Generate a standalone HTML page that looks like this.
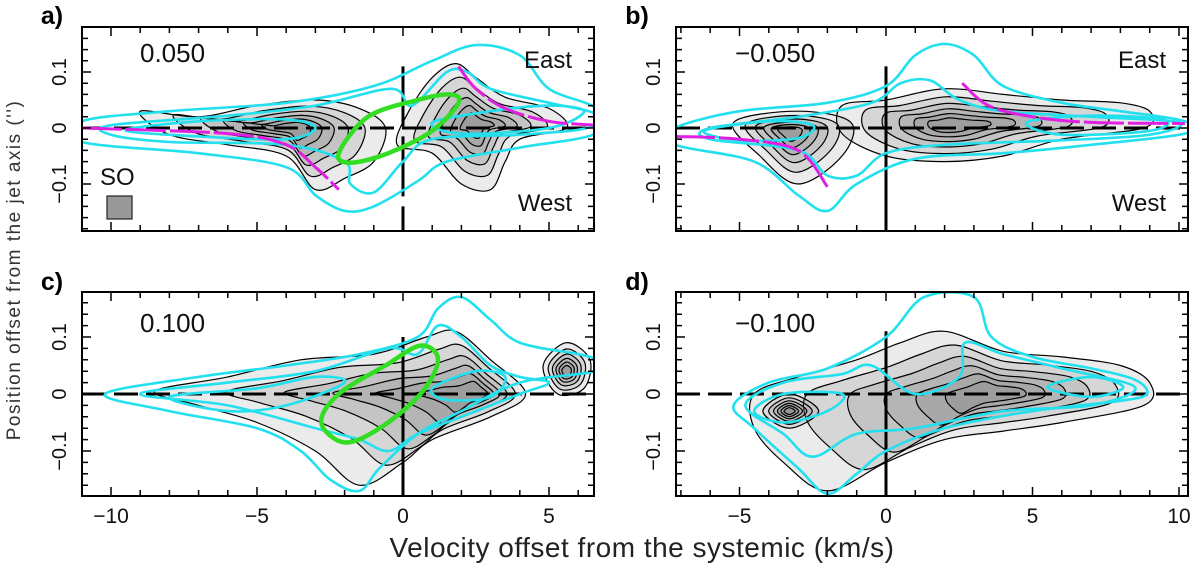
<!DOCTYPE html>
<html><head><meta charset="utf-8"><style>
html,body{margin:0;padding:0;background:#fff;}
svg{display:block;font-family:"Liberation Sans",sans-serif;}
</style></head><body>
<svg id="fig" width="1200" height="567" viewBox="0 0 1200 567">
<text x="20" y="270" transform="rotate(-90 20 270)" text-anchor="middle" font-size="19" fill="#333" letter-spacing="1.5">Position offset from the jet axis ('')</text>
<text x="642" y="557" text-anchor="middle" font-size="28" fill="#222" letter-spacing="0.5">Velocity offset from the systemic (km/s)</text>
</svg>
<script>
// ---- data (velocity km/s, offset arcsec) ----
const panelLabels=["a)","b)","c)","d)"];
const panelValues=["0.050","\u22120.050","0.100","\u22120.100"];
const xTicksAC=[-10,-5,0,5];
const xTicksBD=[-5,0,5,10];
const yTicks=[-0.1,0,0.1];
const levels=[1,0.78,0.6,0.45,0.32,0.2];

const cyanA=[
 [[-11,0.012],[-8,0.03],[-4,0.045],[-1,0.075],[1,0.12],[2.5,0.148],[4,0.13],[5,0.07],[6.6,0.035],[6.6,-0.01],[4,-0.035],[1.5,-0.06],[0.5,-0.095],[-1,-0.14],[-2,-0.148],[-3,-0.12],[-4,-0.07],[-7,-0.045],[-11,-0.025]],
 [[-10,0.005],[-6,0.022],[-3,0.04],[-0.4,0.07],[0.3,0.04],[1.5,0.1],[2.2,0.1],[3,0.07],[5,0.045],[6.6,0.025],[6.3,0.0],[4,-0.012],[1,-0.02],[0,-0.06],[-1,-0.115],[-1.8,-0.1],[-2,-0.06],[-4,-0.03],[-8,-0.025],[-10,-0.012]],
 [[-9.5,-0.004],[-7,0.012],[-4,0.015],[-3,0.0],[-4,-0.02],[-7,-0.015]],
 [[1,0.01],[3,0.03],[5,0.04],[6.2,0.03],[5,0.0],[2,-0.01]]
];
const blackA=[
 {peak:[-3.8,0.0],pts:[[-9,0.03],[-7,0.02],[-5,0.04],[-3,0.05],[-1.5,0.035],[-0.6,0.0],[-1,-0.06],[-2,-0.09],[-3,-0.11],[-4,-0.05],[-6,-0.03],[-8,-0.012]]},
 {peak:[2.5,0.005],pts:[[0.2,0.03],[1,0.09],[1.8,0.115],[2.5,0.09],[3.5,0.055],[5,0.035],[5.6,0.0],[4,-0.02],[3.5,-0.06],[3,-0.11],[2,-0.1],[1,-0.045],[-0.2,-0.03]]}
];
const magentaA=[[[-11,0.0],[-6,-0.01],[-4,-0.03],[-3,-0.07],[-2.2,-0.11]],[[1.9,0.11],[2.5,0.07],[3.5,0.035],[5,0.012],[6.6,0.005]]];
const greenA=[[-2.2,-0.045],[-1.2,0.02],[0.5,0.05],[1.6,0.06],[1.9,0.045],[1.0,-0.005],[-0.5,-0.045],[-1.8,-0.062]];

const cyanB=[
 [[-7.2,0.0],[-5,0.03],[-2,0.045],[0,0.075],[1,0.13],[2,0.15],[3,0.13],[4,0.075],[6,0.045],[8,0.03],[10.2,0.012],[10.2,-0.01],[7,-0.03],[4,-0.045],[1,-0.055],[-1,-0.1],[-2,-0.148],[-3,-0.12],[-4.5,-0.06],[-7.2,-0.03]],
 [[-6,0.0],[-3,0.02],[-0.5,0.045],[0.5,0.08],[1.5,0.085],[2.5,0.05],[4,0.03],[7,0.02],[10,0.01],[9,-0.012],[6,-0.022],[2,-0.03],[0,-0.045],[-1,-0.085],[-2,-0.085],[-3,-0.04],[-6,-0.02]],
 [[-6.2,-0.005],[-4,0.012],[-2.5,0.005],[-3,-0.018],[-5,-0.022]],
 [[4.8,0.01],[7,0.022],[9.5,0.015],[9,-0.005],[6,-0.012]]
];
const blackB=[
 {peak:[2.2,0.005],pts:[[-1.5,0.04],[0,0.05],[2,0.07],[4,0.06],[6,0.05],[8,0.045],[9,0.03],[8.8,0.0],[6,-0.02],[4,-0.05],[2,-0.06],[0,-0.05],[-1.5,-0.01]]},
 {peak:[-3.3,-0.005],pts:[[-5.2,0.01],[-3,0.03],[-1.2,0.01],[-1.5,-0.05],[-3,-0.1],[-4.3,-0.05]]}
];
const magentaB=[[[-7.2,-0.015],[-5,-0.02],[-3,-0.04],[-2,-0.105]],[[2.6,0.08],[3.5,0.04],[5,0.02],[7,0.01],[10.2,0.008]]];

const cyanC=[
 [[-10.2,0.0],[-7,0.03],[-4,0.05],[-1.5,0.07],[0.5,0.1],[1.2,0.15],[2,0.17],[3,0.13],[4,0.09],[6,0.07],[6.6,0.06],[6.6,0.04],[4,0.02],[2,-0.03],[0.5,-0.07],[-0.8,-0.13],[-1.5,-0.17],[-2.5,-0.15],[-3.5,-0.1],[-5,-0.06],[-8,-0.03]],
 [[-9,0.0],[-6,0.02],[-3,0.04],[-0.5,0.08],[0.5,0.07],[1.2,0.12],[2,0.1],[3,0.05],[4,0.03],[5,0.02],[4,0.0],[2,-0.04],[0.5,-0.07],[-0.5,-0.1],[-1.5,-0.08],[-3,-0.06],[-6,-0.02]],
 [[-8,-0.005],[-5,0.01],[-3,0.03],[-2,0.02],[-4,-0.02],[-6,-0.03]],
 [[1,0.01],[2.5,0.04],[3.5,0.03],[3,-0.005],[1.5,-0.01]]
];
const blackC=[
 {peak:[2.6,0.0],pts:[[-8.5,0.005],[-6,0.03],[-3.5,0.06],[-1,0.07],[0.8,0.1],[1.8,0.11],[3,0.06],[4.2,0.0],[3,-0.04],[1,-0.08],[0,-0.12],[-1.5,-0.16],[-3,-0.1],[-5,-0.05],[-7,-0.02]]},
 {peak:[5.6,0.04],pts:[[4.8,0.05],[5.6,0.09],[6.4,0.06],[6.2,0.01],[5.3,0.0]]}
];
const greenC=[[-2.8,-0.05],[-2.2,0.0],[-0.6,0.05],[0.6,0.085],[1.2,0.06],[0.6,0.0],[-0.8,-0.06],[-2.0,-0.085]];

const cyanD=[
 [[-5.2,-0.02],[-4,0.02],[-2,0.045],[0,0.1],[1.3,0.17],[3,0.17],[3.6,0.1],[5,0.065],[7,0.045],[8.5,0.025],[8.9,0.0],[8,-0.012],[5,-0.03],[2,-0.06],[0,-0.1],[-1,-0.14],[-2,-0.175],[-3,-0.13],[-4.5,-0.06]],
 [[-4.8,-0.02],[-3.5,0.02],[-1.5,0.035],[-0.5,0.05],[1,0.0],[2.5,0.03],[2.7,0.09],[4,0.07],[6,0.045],[8.5,0.012],[7,-0.02],[4,-0.03],[1,-0.06],[-1,-0.07],[-2.5,-0.11],[-3.5,-0.07]],
 [[-4.5,-0.03],[-3.5,0.0],[-1.5,0.0],[-2,-0.03],[-3.5,-0.05]],
 [[5.5,0.012],[7,0.03],[8.1,0.012],[7,-0.005]]
];
const blackD=[
 {peak:[3.7,0.0],pts:[[-4.5,0.0],[-3,0.03],[-1,0.06],[0.5,0.09],[2,0.11],[4,0.075],[6,0.065],[8,0.05],[9,0.02],[8.8,-0.02],[6,-0.05],[4,-0.065],[2,-0.08],[0,-0.12],[-2,-0.17],[-3.5,-0.12],[-4.5,-0.06]]},
 {peak:[-3.3,-0.03],pts:[[-4.2,-0.03],[-3.3,0.0],[-2.3,-0.03],[-3.3,-0.06]]}
];

const panels=[
 {id:"a",L:82,R:594,v0:403,k:29.2,T:27,B:231,y0:128,s:560,vmin:-11,vmax:6.6,cyan:cyanA,black:blackA,mag:magentaA,green:greenA,lx:52,ly:24,vx:140,vy:62,xt:null,vline:0.11},
 {id:"b",L:676,R:1188,v0:886,k:29.3,T:27,B:231,y0:128,s:560,vmin:-7.2,vmax:10.3,cyan:cyanB,black:blackB,mag:magentaB,green:null,lx:637,ly:24,vx:735,vy:62,xt:null,vline:0.11},
 {id:"c",L:82,R:594,v0:403,k:29.2,T:292,B:496,y0:394,s:570,vmin:-11,vmax:6.6,cyan:cyanC,black:blackC,mag:null,green:greenC,lx:52,ly:290,vx:140,vy:332,xt:xTicksAC,vline:0.1},
 {id:"d",L:676,R:1188,v0:886,k:29.3,T:292,B:496,y0:394,s:570,vmin:-7.2,vmax:10.3,cyan:cyanD,black:blackD,mag:null,green:null,lx:637,ly:290,vx:735,vy:332,xt:xTicksBD,vline:0.11}
];

const NS="http://www.w3.org/2000/svg";
const svg=document.getElementById("fig");
function mk(tag,attrs,parent){const e=document.createElementNS(NS,tag);for(const k in attrs)e.setAttribute(k,attrs[k]);(parent||svg).appendChild(e);return e;}
function smooth(pts,closed){
 const n=pts.length;let d="M"+pts[0][0].toFixed(1)+","+pts[0][1].toFixed(1);
 const g=i=>closed?pts[(i+n)%n]:pts[Math.max(0,Math.min(n-1,i))];
 const m=closed?n:n-1;
 for(let i=0;i<m;i++){const p0=g(i-1),p1=g(i),p2=g(i+1),p3=g(i+2);
  const c1=[p1[0]+(p2[0]-p0[0])/6,p1[1]+(p2[1]-p0[1])/6],c2=[p2[0]-(p3[0]-p1[0])/6,p2[1]-(p3[1]-p1[1])/6];
  d+="C"+c1[0].toFixed(1)+","+c1[1].toFixed(1)+" "+c2[0].toFixed(1)+","+c2[1].toFixed(1)+" "+p2[0].toFixed(1)+","+p2[1].toFixed(1);}
 return d+(closed?"Z":"");
}
panels.forEach(p=>{
 const X=v=>p.v0+v*p.k, Y=y=>p.y0-y*p.s;
 const toPx=a=>a.map(q=>[X(q[0]),Y(q[1])]);
 const g=mk("g",{"clip-path":"url(#clip"+p.id+")"});
 
 
 const cp=mk("clipPath",{id:"clip"+p.id});mk("rect",{x:p.L,y:p.T,width:p.R-p.L,height:p.B-p.T},cp);
 p.black.forEach((b,bi)=>{
  levels.forEach((lv,li)=>{
   const pts=b.pts.map(q=>[b.peak[0]+(q[0]-b.peak[0])*lv,b.peak[1]+(q[1]-b.peak[1])*lv]);
   const e=mk("path",{d:smooth(toPx(pts),true),fill:"rgba(90,90,90,"+(li==0?0.12:0.14)+")",stroke:"#000","stroke-width":1.2},g);
   
   
  });
 });
 const h=mk("line",{x1:p.L,x2:p.R,y1:Y(0),y2:Y(0),stroke:"#000","stroke-width":3,"stroke-dasharray":"24,8"},g);
 
 
 const vl=mk("line",{x1:X(0),x2:X(0),y1:Y(p.vline),y2:p.B,stroke:"#000","stroke-width":3,"stroke-dasharray":(p.id=="a"?"60,10":"none")},g);
 
 
 p.cyan.forEach((c,ci)=>{
  const e=mk("path",{d:smooth(toPx(c),true),fill:"none",stroke:"#22e0ee","stroke-width":2.6},g);
  
  
 });
 if(p.mag)p.mag.forEach((m,mi)=>{
  const e=mk("path",{d:smooth(toPx(m),false),fill:"none",stroke:"#e020e0","stroke-width":3,"stroke-dasharray":"40,4"},g);
  
  
 });
 if(p.green){const e=mk("path",{d:smooth(toPx(p.green),true),fill:"none",stroke:"#33dd22","stroke-width":4.5},g);
  
  }
 const fr=mk("rect",{x:p.L,y:p.T,width:p.R-p.L,height:p.B-p.T,fill:"none",stroke:"#000","stroke-width":2});
 
 
 let tk="";
 for(let v=Math.ceil(p.vmin);v<=p.vmax;v++){const x=X(v),len=v%5==0?9:6;tk+="M"+x+","+p.B+"v-"+len+"M"+x+","+p.T+"v"+len;}
 for(let i=-9;i<=9;i++){const y=Y(i*0.02);if(y<p.T+1||y>p.B-1)continue;const len=i%5==0?9:6;tk+="M"+p.L+","+y+"h"+len+"M"+p.R+","+y+"h-"+len;}
 const te=mk("path",{d:tk,stroke:"#000","stroke-width":1.5,fill:"none"});
 
 
 yTicks.forEach(t=>{const lx=p.L-16,ly=Y(t);
  const e=mk("text",{x:lx,y:ly,transform:"rotate(-90 "+lx+" "+ly+")","text-anchor":"middle","font-size":20,fill:"#111"});
  e.textContent=t==0?"0":(t<0?"\u22120.1":"0.1");
  
  });
 if(p.xt)p.xt.forEach(t=>{const e=mk("text",{x:X(t),y:p.B+27,"text-anchor":"middle","font-size":21,fill:"#111"});
  e.textContent=t<0?"\u2212"+(-t):String(t);
  
  });
 const i=panels.indexOf(p);
 const lb=mk("text",{x:p.lx,y:p.ly,"font-size":25,"font-weight":"bold","text-anchor":"middle",fill:"#000"});lb.textContent=panelLabels[i];
 
 
 const vt=mk("text",{x:p.vx,y:p.vy,"font-size":26,fill:"#111"});vt.textContent=panelValues[i];
 
 
 if(p.id=="a"||p.id=="b"){
  const e1=mk("text",{x:p.R-22,y:68,"font-size":24,"text-anchor":"end",fill:"#111"});e1.textContent="East";
  
  
  const e2=mk("text",{x:p.R-22,y:211,"font-size":24,"text-anchor":"end",fill:"#111"});e2.textContent="West";
  
  
 }
 if(p.id=="a"){
  const s=mk("text",{x:100,y:185,"font-size":24,fill:"#111"});s.textContent="SO";
  
  
  const r=mk("rect",{x:107,y:196,width:25,height:23,fill:"#999",stroke:"#222","stroke-width":1.2});
  
  
 }
});
</script>
</body></html>
